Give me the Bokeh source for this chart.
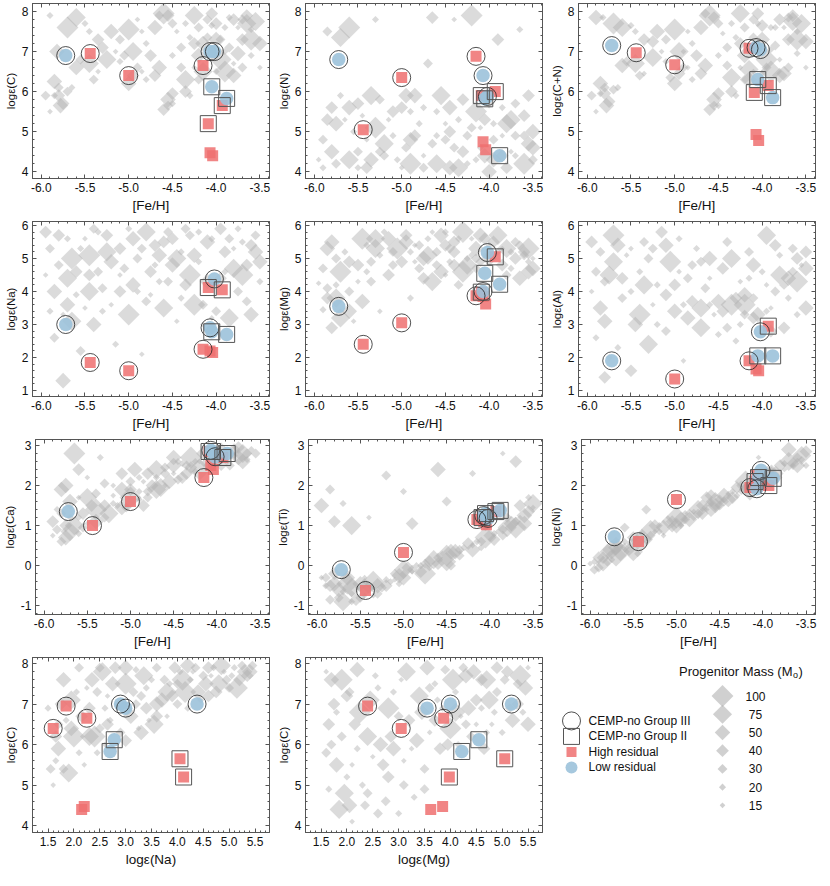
import math
from bokeh.plotting import figure
from bokeh.layouts import row, column
from bokeh.models import Range1d, LinearAxis, SingleIntervalTicker, NumeralTickFormatter
from bokeh.core.properties import value
from bokeh.embed import file_html
from bokeh.resources import INLINE

nan = float("nan")
FONT = "Liberation Sans"

# ---------------- observed CEMP-no stars ----------------
STAR_FEH = [-5.72, -5.44, -5.00, -4.15, -4.07, -4.02, -4.05, -3.88, -3.93, -4.09, -4.07, -4.04]
STAR_GROUP = ["III", "III", "III", "III", "III", "III", "II", "II", "II", "II", "", ""]
STAR_RESID = ["low", "high", "high", "high", "low", "low", "low", "low", "high", "high", "high", "high"]
STAR_C = [6.90, 6.95, 6.40, 6.65, 7.00, 7.00, 6.12, 5.83, 5.65, 5.20, 4.47, 4.40]
STAR_N = [6.80, 5.05, 6.35, 6.88, 6.40, 5.88, 5.82, 4.40, 6.00, 5.90, 4.75, 4.55]
STAR_CN = [7.15, 6.97, 6.67, 7.08, 7.10, 7.05, 6.30, 5.85, 6.15, 5.98, 4.93, 4.78]
STAR_NA = [3.00, 1.85, 1.60, 2.25, 2.90, 4.38, 2.78, 2.70, 4.05, 4.12, 2.20, 2.15]
STAR_MG = [3.55, 2.40, 3.05, 3.87, 4.00, 5.18, 4.55, 4.22, 5.05, 3.98, 3.85, 3.62]
STAR_AL = [1.90, nan, 1.35, 1.90, nan, 2.78, 2.05, 2.05, 2.95, nan, 1.65, 1.60]
STAR_CA = [1.35, 1.00, 1.60, 2.20, 2.88, 2.72, 2.85, 2.80, 2.70, 2.85, 2.50, 2.40]
STAR_TI = [-0.10, -0.62, 0.33, 1.15, 1.25, 1.18, 1.30, 1.38, 1.35, 1.20, 1.10, 1.02]
STAR_NI = [0.72, 0.60, 1.65, 1.95, 1.92, 2.38, 2.20, 2.18, 2.00, 2.10, 2.25, 2.00]

# ---------------- supernova model yields (grey diamonds) ----------------
MODEL_MASS = [15, 20, 30, 40, 50, 75, 100, 20, 30, 15, 40, 50, 20, 30, 75, 15, 20, 40, 30, 100,
              50, 20, 15, 30, 40, 20, 75, 30, 50, 15, 20, 40, 30, 100, 20, 15, 50, 30, 40, 20,
              75, 15, 30, 20, 40, 50, 30, 20, 15, 40,
              30, 50, 20, 75, 40, 15, 100, 30, 20, 50, 40, 20, 30, 75, 15, 50, 30, 40, 20, 100,
              20, 30, 50, 15, 40, 75, 20, 30, 40, 50,
              40, 30, 50, 20, 75, 30, 40, 15, 50, 30, 20, 40, 75, 30, 50, 20, 40, 30, 100, 50]

MODEL_C_FEH = [(-5.9, 5.5), (-5.85, 5.9), (-5.8, 6.1), (-5.75, 5.7), (-5.82, 7.0), (-5.6, 7.85), (-5.7, 7.6), (-5.5, 7.7), (-5.55, 6.8), (-5.35, 6.5),
               (-5.3, 7.1), (-5.2, 7.5), (-5.1, 6.75), (-5.05, 6.9), (-4.95, 7.0), (-4.85, 6.5), (-4.8, 7.2), (-4.7, 6.4), (-4.65, 7.9), (-4.6, 7.95),
               (-4.55, 5.8), (-4.5, 5.7), (-4.45, 7.5), (-4.4, 6.6), (-4.35, 6.0), (-4.3, 7.35), (-4.25, 7.9), (-4.2, 7.6), (-4.15, 7.2), (-4.1, 6.9),
               (-4.05, 7.65), (-4.0, 7.7), (-3.95, 7.3), (-3.9, 6.5), (-3.85, 7.85), (-3.8, 6.7), (-3.75, 6.95), (-3.7, 7.8), (-3.65, 7.9), (-3.6, 6.9),
               (-3.55, 7.75), (-3.5, 6.6), (-4.2, 6.3), (-4.3, 5.9), (-4.6, 5.55), (-5.0, 6.2), (-5.4, 6.3), (-5.9, 7.9), (-4.9, 7.8), (-4.75, 6.9),
               (-5.95, 5.9), (-5.78, 5.65), (-5.65, 6.1), (-5.45, 6.7), (-5.35, 7.3), (-5.15, 7.0), (-5.0, 7.55), (-4.9, 6.6), (-4.8, 6.3), (-4.7, 7.6),
               (-4.55, 7.9), (-4.5, 6.9), (-4.4, 7.1), (-4.35, 6.3), (-4.25, 6.6), (-4.2, 6.9), (-4.1, 7.35), (-4.05, 7.95), (-4.0, 6.5), (-3.95, 6.8),
               (-3.9, 7.6), (-3.85, 7.1), (-3.8, 6.4), (-3.75, 7.6), (-3.7, 7.3), (-3.65, 7.7), (-3.6, 7.55), (-4.55, 5.65), (-4.5, 5.95), (-5.85, 6.25),
               (-5.8, 5.9), (-5.7, 6.0), (-5.6, 6.6), (-5.45, 7.5), (-5.25, 6.8), (-5.1, 7.3), (-4.95, 6.4), (-4.85, 7.5), (-4.65, 6.6), (-4.5, 7.7),
               (-4.35, 7.7), (-4.25, 7.2), (-4.15, 6.5), (-4.1, 7.8), (-4.0, 7.3), (-3.9, 7.0), (-3.8, 7.8), (-3.7, 6.6), (-3.6, 7.3), (-3.5, 7.2)]
MODEL_N_FEH = [(-5.95, 4.3), (-5.9, 4.1), (-5.85, 7.5), (-5.8, 5.6), (-5.75, 5.2), (-5.7, 7.35), (-5.6, 7.6), (-5.55, 5.0), (-5.5, 4.5), (-5.45, 5.4),
               (-5.4, 4.1), (-5.35, 4.3), (-5.3, 7.8), (-5.25, 5.8), (-5.2, 4.7), (-5.15, 5.3), (-5.1, 4.9), (-5.0, 5.6), (-4.95, 4.6), (-4.9, 4.2),
               (-4.85, 5.9), (-4.8, 5.2), (-4.75, 4.4), (-4.7, 6.7), (-4.65, 7.85), (-4.6, 5.5), (-4.55, 5.9), (-4.5, 4.8), (-4.45, 4.1), (-4.4, 7.8),
               (-4.35, 5.3), (-4.3, 4.5), (-4.25, 4.9), (-4.2, 7.9), (-4.15, 4.3), (-4.1, 5.1), (-4.0, 4.0), (-3.95, 4.8), (-3.9, 7.3), (-3.85, 5.6),
               (-3.8, 5.2), (-3.75, 4.5), (-3.7, 4.9), (-3.65, 7.55), (-3.6, 5.4), (-3.55, 4.7), (-3.5, 4.3), (-4.9, 5.5), (-5.65, 5.3), (-4.05, 5.3),
               (-5.9, 4.8), (-5.8, 4.5), (-5.7, 5.9), (-5.6, 4.3), (-5.5, 5.7), (-5.4, 4.8), (-5.3, 5.1), (-5.2, 4.4), (-5.05, 4.3), (-4.95, 5.9),
               (-4.85, 4.9), (-4.75, 5.6), (-4.65, 4.7), (-4.6, 4.2), (-4.5, 5.2), (-4.45, 5.6), (-4.4, 4.6), (-4.3, 5.8), (-4.25, 4.2), (-4.15, 5.5),
               (-4.1, 4.6), (-4.0, 5.7), (-3.95, 4.3), (-3.85, 4.9), (-3.8, 4.1), (-3.75, 5.3), (-3.7, 4.4), (-3.6, 4.9), (-3.55, 5.9), (-3.5, 5.0),
               (-5.85, 5.3), (-5.75, 4.2), (-5.6, 5.6), (-5.5, 4.1), (-5.35, 5.9), (-5.25, 4.5), (-5.1, 5.5), (-5.0, 4.1), (-4.9, 4.8), (-4.75, 4.1),
               (-4.6, 4.9), (-4.45, 5.0), (-4.35, 4.1), (-4.2, 5.1), (-4.05, 4.4), (-3.95, 5.2), (-3.85, 4.4), (-3.7, 5.7), (-3.6, 4.2), (-3.5, 4.6)]
MODEL_CN_FEH = [(-5.9, 5.5), (-5.85, 5.95), (-5.8, 6.1), (-5.75, 5.75), (-5.9, 7.85), (-5.6, 7.6), (-5.7, 7.7), (-5.5, 7.65), (-5.55, 6.75), (-5.35, 6.45),
                (-5.25, 7.25), (-5.2, 7.5), (-5.1, 6.75), (-5.05, 6.35), (-4.95, 7.0), (-4.85, 6.6), (-4.8, 7.2), (-4.7, 6.45), (-4.65, 7.95), (-4.6, 7.9),
                (-4.55, 5.8), (-4.5, 5.65), (-4.45, 7.45), (-4.4, 6.65), (-4.35, 6.0), (-4.3, 7.35), (-4.25, 7.95), (-4.2, 7.6), (-4.15, 6.3), (-4.1, 6.5),
                (-4.05, 7.7), (-4.0, 7.65), (-3.95, 6.6), (-3.9, 6.5), (-3.85, 7.6), (-3.8, 6.8), (-3.75, 6.45), (-3.7, 7.85), (-3.65, 7.9), (-3.6, 6.95),
                (-3.55, 7.7), (-3.5, 6.6), (-4.2, 6.3), (-4.3, 5.9), (-4.6, 5.55), (-5.0, 6.2), (-5.4, 6.4), (-5.82, 7.85), (-4.9, 7.0), (-4.75, 6.9),
                (-5.95, 5.9), (-5.78, 5.65), (-5.65, 6.1), (-5.45, 6.7), (-5.35, 7.3), (-5.15, 7.0), (-5.0, 7.55), (-4.9, 6.6), (-4.8, 6.3), (-4.7, 7.6),
                (-4.55, 7.85), (-4.5, 6.9), (-4.4, 7.1), (-4.35, 6.35), (-4.25, 6.6), (-4.2, 6.9), (-4.1, 7.35), (-4.05, 7.95), (-4.0, 6.45), (-3.95, 6.8),
                (-3.9, 7.6), (-3.85, 7.15), (-3.8, 6.4), (-3.75, 7.6), (-3.7, 7.3), (-3.65, 7.75), (-3.6, 7.5), (-4.55, 5.65), (-4.5, 5.95), (-5.85, 6.2),
                (-5.8, 5.95), (-5.7, 6.05), (-5.6, 6.65), (-5.45, 7.5), (-5.25, 6.85), (-5.1, 7.3), (-4.95, 6.45), (-4.85, 7.5), (-4.65, 6.65), (-4.5, 7.7),
                (-4.35, 7.7), (-4.25, 7.2), (-4.15, 6.55), (-4.1, 7.8), (-4.0, 7.3), (-3.9, 7.05), (-3.8, 7.8), (-3.7, 6.6), (-3.6, 7.3), (-3.5, 7.25)]
MODEL_NA_FEH = [(-5.95, 4.5), (-5.9, 3.4), (-5.85, 2.6), (-5.8, 5.7), (-5.75, 1.3), (-5.7, 4.4), (-5.65, 5.0), (-5.6, 3.9), (-5.55, 2.2), (-5.5, 5.6),
                (-5.45, 4.5), (-5.4, 3.0), (-5.35, 5.8), (-5.3, 4.1), (-5.25, 5.2), (-5.2, 3.6), (-5.15, 2.4), (-5.1, 5.3), (-5.05, 4.7), (-5.0, 3.3),
                (-4.95, 5.6), (-4.9, 4.0), (-4.85, 2.1), (-4.8, 3.7), (-4.7, 5.4), (-4.65, 4.3), (-4.6, 3.5), (-4.55, 5.8), (-4.5, 4.8), (-4.45, 3.1),
                (-4.4, 5.2), (-4.35, 4.2), (-4.3, 5.7), (-4.25, 3.6), (-4.2, 4.9), (-4.15, 3.0), (-4.1, 5.5), (-4.0, 3.4), (-3.95, 5.9), (-3.9, 4.6),
                (-3.85, 3.2), (-3.8, 5.3), (-3.75, 4.0), (-3.7, 5.5), (-3.65, 4.8), (-3.6, 3.3), (-3.55, 5.7), (-3.5, 4.3), (-5.75, 3.3), (-4.75, 4.6),
                (-5.9, 5.3), (-5.85, 4.0), (-5.7, 5.6), (-5.65, 3.1), (-5.6, 4.6), (-5.5, 3.5), (-5.45, 5.1), (-5.4, 5.9), (-5.3, 3.4), (-5.2, 4.9),
                (-5.1, 4.0), (-5.0, 5.9), (-4.9, 5.0), (-4.8, 5.8), (-4.75, 3.9), (-4.65, 5.1), (-4.55, 4.3), (-4.5, 5.6), (-4.4, 3.8), (-4.3, 4.5),
                (-4.2, 5.8), (-4.15, 3.6), (-4.1, 4.3), (-4.05, 3.2), (-3.9, 5.2), (-3.8, 4.7), (-3.75, 5.9), (-3.65, 3.7), (-3.6, 5.4), (-3.5, 4.9),
                (-5.95, 5.8), (-5.8, 4.8), (-5.7, 3.6), (-5.55, 5.3), (-5.45, 4.0), (-5.35, 4.6), (-5.25, 5.7), (-5.1, 4.5), (-4.95, 4.2), (-4.85, 5.3),
                (-4.7, 4.8), (-4.6, 5.5), (-4.45, 5.0), (-4.35, 5.9), (-4.25, 5.1), (-4.05, 5.6), (-3.95, 4.4), (-3.85, 5.6), (-3.7, 4.5), (-3.55, 5.2)]
MODEL_MG_FEH = [(-5.95, 4.25), (-5.9, 3.45), (-5.85, 4.1), (-5.8, 2.9), (-5.8, 5.5), (-5.75, 3.8), (-5.7, 4.6), (-5.65, 5.2), (-5.6, 4.0), (-5.55, 3.1),
                (-5.5, 4.8), (-5.45, 3.7), (-5.4, 5.4), (-5.35, 4.9), (-5.3, 5.6), (-5.25, 3.4), (-5.2, 5.8), (-5.15, 4.5), (-5.1, 5.2), (-5.05, 5.3),
                (-4.95, 5.5), (-4.9, 3.8), (-4.85, 4.9), (-4.8, 5.4), (-4.75, 4.4), (-4.7, 5.6), (-4.65, 4.3), (-4.6, 5.2), (-4.55, 5.7), (-4.5, 4.5),
                (-4.45, 4.9), (-4.4, 5.5), (-4.35, 4.2), (-4.3, 5.8), (-4.25, 5.0), (-4.2, 5.6), (-4.15, 5.3), (-4.1, 4.9), (-4.05, 5.6), (-4.0, 5.4),
                (-3.9, 5.7), (-3.85, 5.3), (-3.8, 4.5), (-3.75, 5.2), (-3.7, 5.0), (-3.65, 4.4), (-3.6, 5.1), (-3.55, 4.9), (-3.5, 5.0), (-4.5, 5.4),
                (-5.9, 4.7), (-5.85, 5.3), (-5.75, 4.2), (-5.7, 3.2), (-5.6, 4.9), (-5.5, 4.3), (-5.45, 5.6), (-5.35, 4.3), (-5.25, 5.1), (-5.15, 5.6),
                (-5.0, 4.9), (-4.9, 5.2), (-4.8, 4.7), (-4.7, 5.1), (-4.65, 5.8), (-4.55, 4.6), (-4.45, 5.3), (-4.4, 4.8), (-4.35, 5.6), (-4.3, 4.6),
                (-4.2, 5.1), (-4.15, 4.7), (-4.1, 5.7), (-4.05, 5.1), (-3.95, 5.5), (-3.8, 5.3), (-3.75, 4.7), (-3.7, 5.5), (-3.6, 5.2), (-3.55, 4.6),
                (-5.85, 3.8), (-5.75, 5.0), (-5.6, 3.4), (-5.4, 4.6), (-5.3, 5.3), (-5.1, 4.8), (-4.95, 5.7), (-4.85, 5.4), (-4.75, 5.0), (-4.6, 4.8),
                (-4.5, 5.8), (-4.4, 5.2), (-4.25, 4.8), (-4.15, 5.0), (-4.0, 5.0), (-3.9, 5.2), (-3.85, 4.8), (-3.65, 5.4), (-3.55, 5.3), (-3.5, 4.7)]
MODEL_AL_FEH = [(-5.95, 4.0), (-5.9, 2.6), (-5.85, 5.2), (-5.8, 1.4), (-5.8, 3.1), (-5.75, 4.5), (-5.7, 5.7), (-5.65, 2.3), (-5.6, 3.8), (-5.55, 5.1),
                (-5.5, 1.6), (-5.45, 3.0), (-5.4, 4.6), (-5.35, 5.5), (-5.3, 2.4), (-5.25, 3.6), (-5.2, 4.2), (-5.15, 5.8), (-5.1, 2.8), (-5.05, 4.9),
                (-5.0, 3.4), (-4.95, 5.6), (-4.9, 1.9), (-4.85, 4.4), (-4.8, 3.7), (-4.75, 5.3), (-4.7, 2.9), (-4.65, 4.1), (-4.6, 5.0), (-4.55, 3.3),
                (-4.5, 2.7), (-4.45, 4.7), (-4.4, 5.5), (-4.35, 3.6), (-4.3, 2.5), (-4.25, 4.3), (-4.2, 3.9), (-4.15, 5.2), (-4.1, 3.2), (-4.0, 4.6),
                (-3.95, 5.7), (-3.9, 3.5), (-3.85, 4.0), (-3.8, 5.1), (-3.75, 2.9), (-3.7, 4.4), (-3.65, 5.3), (-3.6, 3.3), (-3.55, 4.8), (-3.5, 5.2),
                (-5.9, 4.6), (-5.85, 3.5), (-5.75, 2.0), (-5.7, 4.9), (-5.6, 4.4), (-5.5, 5.3), (-5.4, 3.3), (-5.3, 5.0), (-5.2, 3.0), (-5.1, 5.4),
                (-5.0, 4.2), (-4.9, 3.6), (-4.8, 4.8), (-4.7, 3.5), (-4.6, 4.4), (-4.5, 3.7), (-4.4, 2.9), (-4.3, 3.8), (-4.25, 3.0), (-4.2, 3.6),
                (-4.15, 4.4), (-4.1, 3.8), (-4.05, 3.3), (-3.95, 4.2), (-3.9, 2.8), (-3.8, 4.5), (-3.7, 3.8), (-3.65, 4.6), (-3.6, 5.0), (-3.5, 3.5),
                (-5.95, 5.5), (-5.8, 4.3), (-5.65, 5.4), (-5.5, 4.0), (-5.35, 4.2), (-5.25, 5.3), (-5.1, 3.9), (-4.95, 4.6), (-4.85, 3.2), (-4.7, 4.9),
                (-4.6, 3.6), (-4.45, 3.4), (-4.35, 5.0), (-4.2, 3.3), (-4.1, 4.8), (-3.95, 3.4), (-3.85, 5.4), (-3.75, 4.2), (-3.6, 4.3), (-3.5, 4.7)]
MODEL_CA_FEH = [(-5.9, 0.75), (-5.85, 1.4), (-5.8, 0.6), (-5.75, 1.0), (-5.8, 1.9), (-5.7, 0.85), (-5.65, 2.8), (-5.6, 1.2), (-5.55, 0.95), (-5.5, 2.2),
                (-5.45, 1.5), (-5.4, 1.1), (-5.35, 2.7), (-5.3, 2.05), (-5.25, 1.3), (-5.2, 1.75), (-5.15, 1.5), (-5.1, 2.3), (-5.05, 1.45), (-5.0, 1.7),
                (-4.95, 2.4), (-4.9, 1.65), (-4.85, 2.1), (-4.8, 1.85), (-4.75, 2.0), (-4.7, 2.2), (-4.65, 1.95), (-4.6, 2.45), (-4.55, 2.1), (-4.5, 2.3),
                (-4.45, 2.6), (-4.4, 2.2), (-4.35, 2.5), (-4.3, 2.7), (-4.25, 2.35), (-4.2, 2.6), (-4.15, 2.8), (-4.1, 2.5), (-4.05, 2.7), (-4.0, 2.9),
                (-3.95, 2.6), (-3.9, 2.85), (-3.85, 2.5), (-3.8, 2.75), (-3.75, 2.95), (-3.7, 2.6), (-3.65, 2.8), (-3.6, 2.9), (-5.6, 1.7), (-4.85, 1.5),
                (-5.85, 0.9), (-5.75, 0.7), (-5.7, 1.2), (-5.65, 1.0), (-5.55, 1.3), (-5.5, 1.05), (-5.4, 1.4), (-5.3, 1.2), (-5.2, 1.55), (-5.1, 1.45),
                (-5.0, 1.9), (-4.9, 1.85), (-4.8, 1.7), (-4.7, 1.9), (-4.6, 2.0), (-4.5, 2.5), (-4.45, 2.15), (-4.35, 2.3), (-4.25, 2.6), (-4.2, 2.4),
                (-4.15, 2.55), (-4.05, 2.5), (-4.0, 2.65), (-3.9, 2.6), (-3.8, 2.9), (-3.7, 2.8), (-3.65, 2.65), (-3.55, 2.8), (-5.6, 2.4), (-5.75, 2.0),
                (-5.9, 1.1), (-5.8, 1.3), (-5.7, 1.6), (-5.6, 0.8), (-5.5, 1.7), (-5.4, 1.8), (-5.3, 1.5), (-5.2, 2.0), (-5.1, 1.9), (-5.0, 2.1),
                (-4.9, 2.2), (-4.8, 2.3), (-4.7, 2.4), (-4.6, 2.3), (-4.5, 2.7), (-4.4, 2.55), (-4.3, 2.45), (-4.1, 2.7), (-3.95, 2.8), (-3.75, 2.7)]
MODEL_TI_FEH = [(-5.95, -0.3), (-5.9, -0.5), (-5.85, -0.85), (-5.8, -0.2), (-5.75, -0.6), (-5.7, -0.9), (-5.65, -0.45), (-5.6, -0.7), (-5.5, -0.8), (-5.45, -0.3),
                (-5.4, -0.55), (-5.3, -0.5), (-5.2, -0.35), (-5.1, -0.2), (-5.0, -0.1), (-4.9, -0.15), (-4.8, 0.0), (-4.7, 0.1), (-4.6, 0.2), (-4.5, 0.25),
                (-4.4, 0.35), (-4.3, 0.45), (-4.2, 0.5), (-4.1, 0.6), (-4.0, 0.75), (-3.9, 0.85), (-3.8, 0.95), (-3.7, 1.1), (-3.6, 1.25), (-3.5, 1.45),
                (-3.55, 1.7), (-3.65, 1.5), (-4.45, 0.0), (-4.75, -0.2), (-5.05, -0.45), (-5.35, -0.75),
                (-5.95, 1.5), (-5.85, 1.9), (-5.8, 1.1), (-5.7, 1.55), (-5.6, 1.0), (-5.4, 1.2), (-5.2, 2.25), (-5.0, 1.85), (-4.9, 1.05), (-4.6, 2.4),
                (-4.5, 1.6), (-4.2, 2.3), (-3.85, 2.8), (-3.7, 2.6),
                (-5.9, -0.3), (-5.8, -0.45), (-5.7, -0.65), (-5.6, -0.55), (-5.55, -0.85), (-5.45, -0.75), (-5.35, -0.4), (-5.25, -0.55), (-5.15, -0.4), (-5.05, -0.25),
                (-4.95, -0.05), (-4.85, 0.0), (-4.75, 0.05), (-4.65, 0.15), (-4.55, 0.3), (-4.45, 0.35), (-4.35, 0.4), (-4.25, 0.55), (-4.15, 0.6), (-4.05, 0.7),
                (-3.95, 0.8), (-3.85, 0.9), (-3.75, 1.05), (-3.65, 1.2), (-3.55, 1.35), (-3.5, 1.55), (-4.05, 0.95), (-3.8, 1.2), (-4.8, -0.15), (-5.5, -0.45),
                (-5.85, -0.5), (-5.75, -0.8), (-5.65, -0.3), (-5.6, -0.9), (-5.45, -0.55), (-5.3, -0.7), (-5.2, -0.5), (-5.1, -0.35), (-5.0, -0.3), (-4.9, -0.1),
                (-4.7, -0.05), (-4.6, 0.05), (-4.5, 0.1), (-4.35, 0.25), (-4.2, 0.4), (-4.1, 0.45), (-3.95, 0.65), (-3.85, 0.75), (-3.7, 0.95), (-3.6, 1.05)]
MODEL_NI_FEH = [(-6.0, 0.05), (-5.95, 0.1), (-5.9, -0.05), (-5.85, 0.2), (-5.8, 0.35), (-5.75, 0.4), (-5.7, 0.25), (-5.65, 0.5), (-5.6, 0.45), (-5.55, 0.55),
                (-5.5, 0.7), (-5.45, 0.6), (-5.4, 0.8), (-5.35, 1.4), (-5.3, 0.9), (-5.25, 0.85), (-5.2, 1.0), (-5.1, 1.1), (-5.05, 0.95), (-5.0, 1.2),
                (-4.95, 1.15), (-4.9, 1.3), (-4.8, 1.35), (-4.75, 1.3), (-4.7, 1.5), (-4.6, 1.55), (-4.55, 1.6), (-4.5, 1.65), (-4.45, 1.75), (-4.4, 1.8),
                (-4.35, 1.85), (-4.3, 1.95), (-4.25, 2.0), (-4.2, 2.1), (-4.1, 2.15), (-4.0, 2.25), (-3.95, 2.3), (-3.9, 2.4), (-3.8, 2.5), (-3.75, 2.55),
                (-3.7, 2.6), (-3.65, 2.5), (-3.6, 2.7), (-3.55, 2.65), (-3.5, 2.85), (-4.85, 1.15), (-5.6, 0.95), (-5.45, 0.3), (-4.05, 2.7), (-4.65, 1.7),
                (-5.95, -0.1), (-5.85, 0.05), (-5.75, 0.15), (-5.65, 0.35), (-5.55, 0.4), (-5.5, 0.5), (-5.4, 0.65), (-5.3, 0.75), (-5.2, 0.85), (-5.15, 0.95),
                (-5.05, 1.1), (-4.95, 1.0), (-4.85, 1.3), (-4.75, 1.4), (-4.65, 1.4), (-4.55, 1.5), (-4.45, 1.6), (-4.35, 1.7), (-4.25, 1.85), (-4.15, 1.9),
                (-4.05, 2.05), (-3.95, 2.15), (-3.85, 2.3), (-3.75, 2.4), (-3.65, 2.55), (-3.55, 2.75), (-3.5, 2.5), (-5.7, 0.6), (-4.6, 1.75), (-3.7, 2.9),
                (-5.9, 0.2), (-5.8, 0.1), (-5.7, 0.45), (-5.6, 0.6), (-5.5, 0.35), (-5.35, 0.65), (-5.25, 1.0), (-5.15, 0.75), (-5.0, 1.0), (-4.9, 1.15),
                (-4.8, 1.2), (-4.7, 1.3), (-4.6, 1.45), (-4.5, 1.5), (-4.4, 1.65), (-4.3, 1.75), (-4.2, 1.9), (-4.1, 1.95), (-3.9, 2.2), (-3.6, 2.5)]
MODEL_C_NA = [(1.6, 5.0), (1.65, 5.6), (1.7, 6.5), (1.75, 7.0), (1.8, 7.6), (1.9, 5.3), (2.0, 6.2), (2.05, 7.3), (2.1, 7.9), (2.2, 5.5),
              (2.3, 6.9), (2.35, 7.6), (2.45, 5.8), (2.5, 6.4), (2.55, 7.8), (2.65, 7.2), (2.7, 6.6), (2.8, 7.9), (2.9, 6.3), (3.0, 7.5),
              (3.1, 6.7), (3.2, 7.85), (3.25, 6.4), (3.3, 7.2), (3.4, 6.9), (3.5, 7.6), (3.55, 6.5), (3.6, 7.9), (3.7, 7.1), (3.8, 6.7),
              (3.85, 7.5), (3.95, 7.9), (4.0, 7.0), (4.1, 7.6), (4.2, 6.9), (4.3, 7.8), (4.4, 7.3), (4.5, 7.7), (4.6, 7.2), (4.7, 7.9),
              (4.8, 7.5), (4.9, 7.8), (5.0, 7.4), (5.1, 7.9), (5.2, 7.6), (5.3, 7.8), (5.45, 7.95), (1.5, 6.9), (2.6, 6.0), (3.0, 6.1),
              (1.55, 5.4), (1.7, 5.9), (1.85, 6.6), (1.95, 7.1), (2.15, 6.7), (2.25, 7.4), (2.4, 6.2), (2.5, 7.9), (2.6, 6.9), (2.75, 7.5),
              (2.9, 7.0), (3.05, 6.9), (3.15, 7.3), (3.35, 7.7), (3.45, 6.6), (3.6, 7.0), (3.75, 7.6), (3.9, 7.2), (4.05, 7.8), (4.15, 7.3),
              (4.25, 7.6), (4.35, 7.9), (4.55, 7.5), (4.65, 7.7), (4.75, 7.3), (4.85, 7.95), (5.05, 7.7), (5.25, 7.95), (5.35, 7.7), (3.3, 6.3),
              (1.65, 6.2), (1.8, 5.4), (1.95, 6.4), (2.1, 5.8), (2.3, 6.2), (2.45, 7.3), (2.65, 6.5), (2.85, 6.9), (3.0, 7.9), (3.2, 7.0),
              (3.4, 7.4), (3.6, 6.7), (3.8, 7.3), (4.0, 7.5), (4.2, 7.95), (4.45, 7.1), (4.6, 7.9), (4.95, 7.6), (5.15, 7.4), (5.4, 7.8)]
MODEL_C_MG = [(1.6, 7.8), (1.65, 4.9), (1.7, 6.0), (1.75, 7.0), (1.8, 5.5), (1.85, 4.4), (1.9, 7.6), (2.0, 5.2), (2.05, 7.3), (2.1, 4.1),
              (2.15, 6.5), (2.2, 7.85), (2.3, 5.0), (2.35, 4.5), (2.4, 6.2), (2.5, 5.7), (2.6, 7.4), (2.7, 5.5), (2.75, 4.6), (2.8, 6.9),
              (2.9, 5.9), (3.0, 4.3), (3.05, 7.6), (3.1, 5.0), (3.2, 6.6), (3.3, 4.7), (3.4, 7.2), (3.5, 5.4), (3.55, 7.9), (3.6, 6.3),
              (3.7, 7.5), (3.8, 5.9), (3.9, 7.85), (4.0, 6.4), (4.1, 7.3), (4.2, 6.7), (4.3, 7.7), (4.4, 6.2), (4.5, 7.1), (4.6, 6.9),
              (4.7, 7.6), (4.8, 6.5), (4.9, 7.3), (5.0, 6.3), (5.1, 7.8), (5.2, 6.6), (5.3, 7.5), (5.4, 6.8), (5.5, 7.9), (4.65, 5.9),
              (1.6, 5.8), (1.7, 7.6), (1.8, 6.8), (1.95, 4.8), (2.0, 7.2), (2.1, 5.5), (2.25, 6.8), (2.4, 4.8), (2.55, 7.7), (2.65, 6.0),
              (2.8, 5.2), (2.9, 7.3), (3.0, 6.7), (3.15, 7.8), (3.25, 5.9), (3.45, 6.8), (3.6, 7.4), (3.7, 6.6), (3.85, 6.9), (4.05, 7.6),
              (4.15, 6.0), (4.25, 7.9), (4.35, 6.9), (4.5, 6.5), (4.6, 7.6), (4.75, 7.1), (4.85, 6.8), (5.05, 7.6), (5.3, 7.0), (5.45, 7.4),
              (1.65, 6.5), (1.9, 6.2), (2.05, 4.5), (2.2, 5.9), (2.45, 7.1), (2.6, 4.3), (2.85, 6.2), (3.1, 5.6), (3.35, 6.1), (3.5, 4.9),
              (3.75, 7.1), (3.95, 6.0), (4.1, 6.8), (4.3, 6.5), (4.45, 7.8), (4.7, 6.3), (4.9, 7.9), (5.15, 6.9), (5.35, 7.7), (5.5, 6.5)]

# legend content
LEGEND_SYMBOL_LABELS = ["CEMP-no Group III", "CEMP-no Group II", "High residual", "Low residual"]
LEGEND_MASSES = [100, 75, 50, 40, 30, 20, 15]

# marker side (px) of the rotated-square diamond per progenitor mass
MASS_SIDE = {100: 15.5, 75: 13.5, 50: 11.0, 40: 9.0, 30: 7.0, 20: 5.0, 15: 4.0}

GREY = "#b0b0b0"
RED = "#ee7070"
BLUE = "#9cc2da"
AXC = "#555555"

FEH_RANGE = (-6.1, -3.39)
ABUND_RANGE = (1.2, 5.78)

W, H = 273, 218
BL, BR, BT, BB = 32, 4, 3, 40


def style_axis(ax, labels=True):
    ax.axis_line_color = AXC
    ax.axis_line_width = 1
    ax.major_tick_line_color = AXC
    ax.minor_tick_line_color = AXC
    ax.major_tick_in = 4
    ax.major_tick_out = 0
    ax.minor_tick_in = 2
    ax.minor_tick_out = 0
    if labels:
        ax.major_label_text_font = FONT
        ax.major_label_text_font_size = "12px"
        ax.major_label_text_color = "#111111"
        ax.major_label_standoff = 4
        ax.axis_label_text_font = FONT
        ax.axis_label_text_font_style = "normal"
        ax.axis_label_text_color = "#111111"
    else:
        ax.major_label_text_font_size = "1px"
        ax.major_label_text_color = None
        ax.major_label_standoff = 0


def panel(models, sx, sy, xlabel, ylabel, xr, yr, xint):
    p = figure(width=W, height=H, x_range=Range1d(*xr), y_range=Range1d(*yr),
               output_backend="svg", toolbar_location=None,
               min_border_left=BL, min_border_right=BR, min_border_top=BT, min_border_bottom=BB)
    p.grid.visible = False
    p.outline_line_color = AXC
    p.xaxis.ticker = SingleIntervalTicker(interval=xint, num_minor_ticks=5)
    p.yaxis.ticker = SingleIntervalTicker(interval=1, num_minor_ticks=5)
    p.xaxis.formatter = NumeralTickFormatter(format="0.0")
    p.yaxis.formatter = NumeralTickFormatter(format="0")
    p.xaxis.axis_label = xlabel
    p.yaxis.axis_label = ylabel
    for ax in p.xaxis:
        style_axis(ax)
        ax.axis_label_text_font_size = "13.5px"
        ax.axis_label_standoff = 3
    for ax in p.yaxis:
        style_axis(ax)
        ax.axis_label_text_font_size = "11.5px"
        ax.axis_label_standoff = 2
    top = LinearAxis(ticker=SingleIntervalTicker(interval=xint, num_minor_ticks=5))
    right = LinearAxis(ticker=SingleIntervalTicker(interval=1, num_minor_ticks=5))
    style_axis(top, False)
    style_axis(right, False)
    p.add_layout(top, "above")
    p.add_layout(right, "right")

    # model diamonds: larger first
    order = sorted(range(len(models)), key=lambda i: -MODEL_MASS[i % len(MODEL_MASS)])
    mx = [models[i][0] for i in order]
    my = [models[i][1] for i in order]
    ms = [MASS_SIDE[MODEL_MASS[i % len(MODEL_MASS)]] for i in order]
    p.scatter(mx, my, size=ms, marker="square", angle=math.pi / 4,
              fill_color=GREY, fill_alpha=0.45, line_color=None)

    n = len(sx)
    hi = [i for i in range(n) if STAR_RESID[i] == "high"]
    lo = [i for i in range(n) if STAR_RESID[i] == "low"]
    g3 = [i for i in range(n) if STAR_GROUP[i] == "III"]
    g2 = [i for i in range(n) if STAR_GROUP[i] == "II"]
    p.scatter([sx[i] for i in hi], [sy[i] for i in hi], marker="square", size=11,
              fill_color=RED, fill_alpha=0.85, line_color=None)
    p.scatter([sx[i] for i in lo], [sy[i] for i in lo], marker="circle", size=13.5,
              fill_color=BLUE, fill_alpha=0.9, line_color=None)
    p.scatter([sx[i] for i in g3], [sy[i] for i in g3], marker="circle", size=18,
              fill_color=None, line_color="#222222", line_width=0.8)
    p.scatter([sx[i] for i in g2], [sy[i] for i in g2], marker="square", size=16,
              fill_color=None, line_color="#555555", line_width=1)
    return p


FEH_LABEL = "[Fe/H]"
panels = [
    panel(MODEL_C_FEH, STAR_FEH, STAR_C, FEH_LABEL, "logε(C)", FEH_RANGE, (3.83, 8.2), 0.5),
    panel(MODEL_N_FEH, STAR_FEH, STAR_N, FEH_LABEL, "logε(N)", FEH_RANGE, (3.83, 8.2), 0.5),
    panel(MODEL_CN_FEH, STAR_FEH, STAR_CN, FEH_LABEL, "logε(C+N)", FEH_RANGE, (3.83, 8.2), 0.5),
    panel(MODEL_NA_FEH, STAR_FEH, STAR_NA, FEH_LABEL, "logε(Na)", FEH_RANGE, (0.82, 6.12), 0.5),
    panel(MODEL_MG_FEH, STAR_FEH, STAR_MG, FEH_LABEL, "logε(Mg)", FEH_RANGE, (0.82, 6.12), 0.5),
    panel(MODEL_AL_FEH, STAR_FEH, STAR_AL, FEH_LABEL, "logε(Al)", FEH_RANGE, (0.82, 6.12), 0.5),
    panel(MODEL_CA_FEH, STAR_FEH, STAR_CA, FEH_LABEL, "logε(Ca)", FEH_RANGE, (-1.22, 3.15), 0.5),
    panel(MODEL_TI_FEH, STAR_FEH, STAR_TI, FEH_LABEL, "logε(Ti)", FEH_RANGE, (-1.22, 3.15), 0.5),
    panel(MODEL_NI_FEH, STAR_FEH, STAR_NI, FEH_LABEL, "logε(Ni)", FEH_RANGE, (-1.22, 3.15), 0.5),
    panel(MODEL_C_NA, STAR_NA, STAR_C, "logε(Na)", "logε(C)", ABUND_RANGE, (3.83, 8.15), 0.5),
    panel(MODEL_C_MG, STAR_MG, STAR_C, "logε(Mg)", "logε(C)", ABUND_RANGE, (3.83, 8.15), 0.5),
]

# ---------------- legend panel (pixel coordinates inside this figure) ----------------
leg = figure(width=W, height=H, x_range=Range1d(0, W), y_range=Range1d(H, 0),
             x_axis_type=None, y_axis_type=None, output_backend="svg", toolbar_location=None,
             min_border=0)
leg.grid.visible = False
leg.outline_line_color = None

sym_x = 25
sym_y = [79 + 19.3 * i for i in range(len(LEGEND_SYMBOL_LABELS))]
leg.scatter([sym_x], [sym_y[0]], marker="circle", size=18, fill_color=None, line_color="#222222", line_width=0.8)
leg.scatter([sym_x], [sym_y[1]], marker="square", size=16, fill_color=None, line_color="#555555", line_width=1)
leg.scatter([sym_x], [sym_y[2]], marker="square", size=10, fill_color=RED, fill_alpha=0.85, line_color=None)
leg.scatter([sym_x], [sym_y[3]], marker="circle", size=12, fill_color=BLUE, fill_alpha=0.9, line_color=None)
leg.text(x=[sym_x + 17] * len(sym_y), y=sym_y, text=LEGEND_SYMBOL_LABELS,
         text_font=value(FONT), text_font_size="12px", text_baseline="middle",
         text_align="left", text_color="#111111")

mass_y = [48 + 22.7 * i for i in range(len(LEGEND_MASSES))]
leg.scatter([176] * len(mass_y), mass_y, marker="square", angle=math.pi / 4,
            size=[MASS_SIDE[m] for m in LEGEND_MASSES], fill_color=GREY, fill_alpha=0.6, line_color=None)
leg.text(x=[209] * len(mass_y), y=mass_y, text=[str(m) for m in LEGEND_MASSES],
         text_font=value(FONT), text_font_size="12px", text_baseline="middle",
         text_align="center", text_color="#111111")
leg.text(x=[246], y=[18], text=["Progenitor Mass (M"], text_font=value(FONT),
         text_font_size="13px", text_baseline="middle", text_align="right", text_color="#111111")
leg.text(x=[246.5], y=[22], text=["o"], text_font=value(FONT),
         text_font_size="9px", text_baseline="middle", text_align="left", text_color="#111111")
leg.text(x=[252], y=[18], text=[")"], text_font=value(FONT),
         text_font_size="13px", text_baseline="middle", text_align="left", text_color="#111111")

page = column(row(*panels[0:3]), row(*panels[3:6]), row(*panels[6:9]),
              row(panels[9], panels[10], leg))

open("out.html", "w").write(file_html(page, INLINE))
